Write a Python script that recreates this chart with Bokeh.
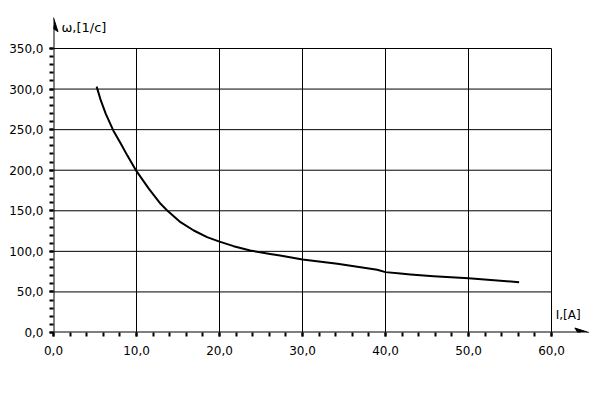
from bokeh.plotting import figure
from bokeh.models import Range1d, LinearAxis, FixedTicker, Label
from bokeh.embed import file_html
from bokeh.resources import INLINE

# data
current = [5.2, 5.7, 6.3, 7.2, 8.1, 8.9, 10.0, 11.5, 12.9, 13.7, 15.3, 16.9,
           18.5, 20.0, 21.7, 23.7, 26.1, 27.3, 30.0, 34.2, 39.0, 40.0, 41.8,
           43.0, 45.8, 50.0, 56.1]
omega = [303, 286, 269.5, 249, 233, 218, 198.8, 177, 158.6, 150.4, 136, 125.7,
         117.5, 112, 106.4, 101, 96.8, 94.8, 90, 84.7, 77.3, 74.4, 72.6,
         71.5, 69.4, 66.9, 62]
x_ticks = [0, 10, 20, 30, 40, 50, 60]
y_ticks = [0, 50, 100, 150, 200, 250, 300, 350]
x_minor = [i * 2 for i in range(31)]
y_minor = [i * 10 for i in range(36)]
x_label = "I,[A]"
y_label = "ω,[1/c]"

FONT = "DejaVu Sans"
FS = "12px"

X_END = 60 * 542 / 498
Y_END = 350 * 317 / 284
PX_X = 498 / 60      # pixels per x unit
PX_Y = 284 / 350     # pixels per y unit

p = figure(width=609, height=395, output_backend="svg", toolbar_location=None,
           x_range=Range1d(0, X_END), y_range=Range1d(0, Y_END),
           x_axis_type=None, y_axis_type=None,
           min_border_left=53, min_border_right=14, min_border_top=15, min_border_bottom=63)
p.outline_line_color = None
p.background_fill_color = "white"
p.border_fill_color = "white"
p.xgrid.visible = False
p.ygrid.visible = False

def fmt(v):
    return f"{v:.1f}".replace(".", ",")

xa = LinearAxis(ticker=FixedTicker(ticks=x_ticks, minor_ticks=x_minor))
xa.major_label_overrides = {t: fmt(t) for t in x_ticks}
ya = LinearAxis(ticker=FixedTicker(ticks=y_ticks, minor_ticks=y_minor))
ya.major_label_overrides = {t: fmt(t) for t in y_ticks}
for ax in (xa, ya):
    ax.axis_line_color = None
    ax.major_tick_in = 0
    ax.major_tick_out = 4
    ax.minor_tick_in = 0
    ax.minor_tick_out = 4
    ax.major_tick_line_width = 2
    ax.minor_tick_line_width = 2
    ax.major_tick_line_color = "black"
    ax.minor_tick_line_color = "black"
    ax.major_label_text_font = FONT
    ax.major_label_text_font_size = FS
    ax.major_label_text_color = "black"
xa.major_label_standoff = 9
ya.major_label_standoff = 6
p.add_layout(xa, "below")
p.add_layout(ya, "left")

# grid lines limited to 0..60, 0..350
nx = len(x_ticks) - 1
ny = len(y_ticks) - 1
p.segment(x0=x_ticks[1:], y0=[0] * nx, x1=x_ticks[1:], y1=[y_ticks[-1]] * nx,
          line_color="black", line_width=1)
p.segment(x0=[0] * ny, y0=y_ticks[1:], x1=[x_ticks[-1]] * ny, y1=y_ticks[1:],
          line_color="black", line_width=1)

# curve
p.line(current, omega, line_color="black", line_width=2, line_join="round")

# axis lines with arrows
x_tip = 64.5
y_tip = 388
p.segment(x0=[0, 0], y0=[0, 0], x1=[x_tip - 8 / PX_X, 0], y1=[0, y_tip - 8 / PX_Y],
          line_color="black", line_width=2)
L, W, N = 14, 4.5, 3  # head length, half width, notch (pixels)
p.patch([x_tip, x_tip - L / PX_X, x_tip - (L - N) / PX_X, x_tip - L / PX_X],
        [0, W / PX_Y, 0, -W / PX_Y], fill_color="black", line_color="black", line_width=1)
p.patch([0, W / PX_X, 0, -W / PX_X],
        [y_tip, y_tip - L / PX_Y, y_tip - (L - N) / PX_Y, y_tip - L / PX_Y],
        fill_color="black", line_color="black", line_width=1)

p.add_layout(Label(x=0.96, y=376, text=y_label, text_font=FONT, text_font_size="13px",
                   text_baseline="middle", text_align="left", text_color="black"))
p.add_layout(Label(x=60.5, y=22, text=x_label, text_font=FONT, text_font_size=FS,
                   text_baseline="middle", text_align="left", text_color="black"))

open("out.html", "w").write(file_html(p, INLINE))
